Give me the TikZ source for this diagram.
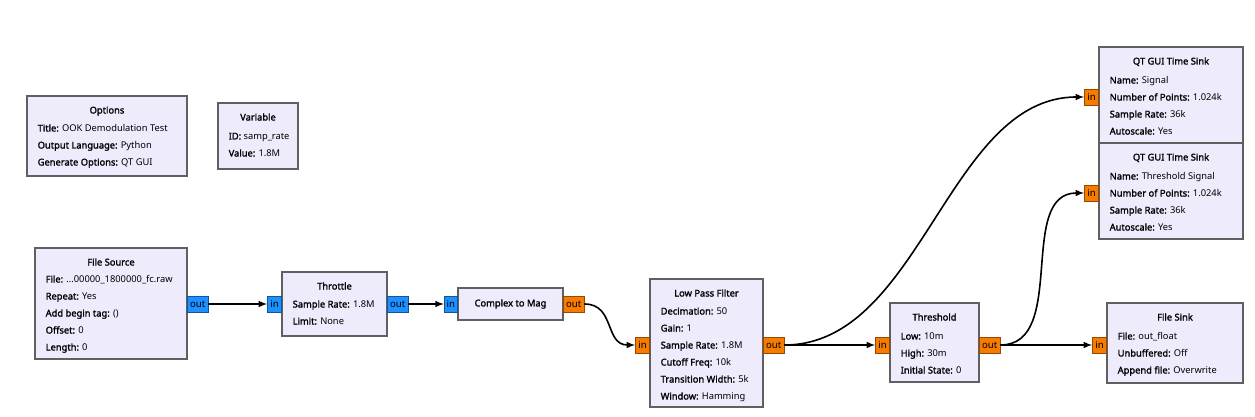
\documentclass[tikz,border=0pt]{standalone}
\usepackage{fontspec}
\setmainfont{Noto Sans}[AutoFakeBold=1.6]
\definecolor{blockfill}{RGB}{238,235,253}
\definecolor{blockline}{RGB}{96,96,96}
\definecolor{portblue}{RGB}{30,144,255}
\definecolor{portorange}{RGB}{245,124,0}
\tikzset{
  block/.style={draw=blockline, fill=blockfill, line width=1.5pt, rectangle, inner sep=0pt},
  port/.style={draw=#1!60!black, fill=#1, line width=0.6pt, inner sep=0pt, minimum height=12pt, font=\fontsize{7.2}{8}\selectfont, anchor=west},
  title/.style={font=\fontsize{7}{9}\selectfont\bfseries, anchor=base},
  param/.style={font=\fontsize{7}{9}\selectfont, anchor=base west},
  wire/.style={line width=1.2pt, -latex},
}
% block (x1,y1) to (x2,y2) in pixels, title, then lines
\newcommand{\blk}[6]{%
  \node[block, minimum width=(#4-#2)*0.75pt, minimum height=(#5-#3)*0.75pt] (#1) at ({(#2+#4)/2},{(#3+#5)/2}) {};
  \node[title] at ({(#2+#4)/2},#3+17.5) {#6};}
\newcommand{\prm}[4]{\node[param] at (#1,#2+3.5) {\textbf{#3:} #4};}
\begin{document}
\begin{tikzpicture}[x=0.75pt, y=-0.75pt]
  \useasboundingbox (0,0) rectangle (1255,417);

  % options and variable
  \blk{options}{27}{96}{187}{176}{Options}
  \prm{33}{128}{Title}{OOK Demodulation Test}
  \prm{33}{145}{Output Language}{Python}
  \prm{33}{162}{Generate Options}{QT GUI}
  \blk{variable}{218}{103}{298}{169}{Variable}
  \prm{224}{136}{ID}{samp\_rate}
  \prm{224}{153}{Value}{1.8M}

  % file source
  \blk{source}{35}{248}{187}{359}{File Source}
  \prm{41}{279}{File}{...00000\_1800000\_fc.raw}
  \prm{41}{296}{Repeat}{Yes}
  \prm{41}{313}{Add begin tag}{()}
  \prm{41}{330}{Offset}{0}
  \prm{41}{347}{Length}{0}
  \node[port=portblue, minimum width=15.5pt] (source out) at (187,304) {out};

  % throttle
  \blk{throttle}{282}{272}{387}{336}{Throttle}
  \prm{288}{304}{Sample Rate}{1.8M}
  \prm{288}{321}{Limit}{None}
  \node[port=portblue, minimum width=10.5pt, anchor=east] (throttle in) at (282,304) {in};
  \node[port=portblue, minimum width=15.5pt] (throttle out) at (387,304) {out};

  % complex to mag
  \blk{mag}{458}{288}{563}{320}{}
  \node[title, anchor=center] at (510.5,304) {Complex to Mag};
  \node[port=portblue, minimum width=10pt, anchor=east] (mag in) at (458,304) {in};
  \node[port=portorange, minimum width=15.5pt] (mag out) at (563,304) {out};

  % low pass filter
  \blk{lpf}{650}{279}{763}{407}{Low Pass Filter}
  \prm{656}{311}{Decimation}{50}
  \prm{656}{328}{Gain}{1}
  \prm{656}{345}{Sample Rate}{1.8M}
  \prm{656}{362}{Cutoff Freq}{10k}
  \prm{656}{379}{Transition Width}{5k}
  \prm{656}{396}{Window}{Hamming}
  \node[port=portorange, minimum width=10.5pt, anchor=east] (lpf in) at (650,345) {in};
  \node[port=portorange, minimum width=15.5pt] (lpf out) at (763,345) {out};

  % threshold
  \blk{threshold}{890}{303}{979}{382}{Threshold}
  \prm{896}{336}{Low}{10m}
  \prm{896}{353}{High}{30m}
  \prm{896}{370}{Initial State}{0}
  \node[port=portorange, minimum width=10.5pt, anchor=east] (threshold in) at (890,345) {in};
  \node[port=portorange, minimum width=15.5pt] (threshold out) at (979,345) {out};

  % sinks
  \blk{sink1}{1099}{47}{1243}{143}{QT GUI Time Sink}
  \prm{1105}{80}{Name}{Signal}
  \prm{1105}{97}{Number of Points}{1.024k}
  \prm{1105}{114}{Sample Rate}{36k}
  \prm{1105}{131}{Autoscale}{Yes}
  \node[port=portorange, minimum width=10.5pt, anchor=east] (sink1 in) at (1099,97) {in};
  \blk{sink2}{1099}{143}{1243}{239}{QT GUI Time Sink}
  \prm{1105}{176}{Name}{Threshold Signal}
  \prm{1105}{193}{Number of Points}{1.024k}
  \prm{1105}{210}{Sample Rate}{36k}
  \prm{1105}{227}{Autoscale}{Yes}
  \node[port=portorange, minimum width=10.5pt, anchor=east] (sink2 in) at (1099,193) {in};
  \blk{filesink}{1107}{303}{1243}{383}{File Sink}
  \prm{1113}{336}{File}{out\_float}
  \prm{1113}{353}{Unbuffered}{Off}
  \prm{1113}{370}{Append file}{Overwrite}
  \node[port=portorange, minimum width=10.5pt, anchor=east] (filesink in) at (1107,345) {in};

  % connections
  \draw[wire] (source out) -- (throttle in);
  \draw[wire] (throttle out) -- (mag in);
  \draw[wire] (mag out.east) to[out=0, in=180, looseness=1.2] (lpf in.west);
  \draw[wire] (lpf out.east) to[out=0, in=180, looseness=0.9] (sink1 in.west);
  \draw[wire] (lpf out) -- (threshold in);
  \draw[wire] (threshold out.east) to[out=0, in=180, looseness=1] (sink2 in.west);
  \draw[wire] (threshold out) -- (filesink in);
\end{tikzpicture}
\end{document}
